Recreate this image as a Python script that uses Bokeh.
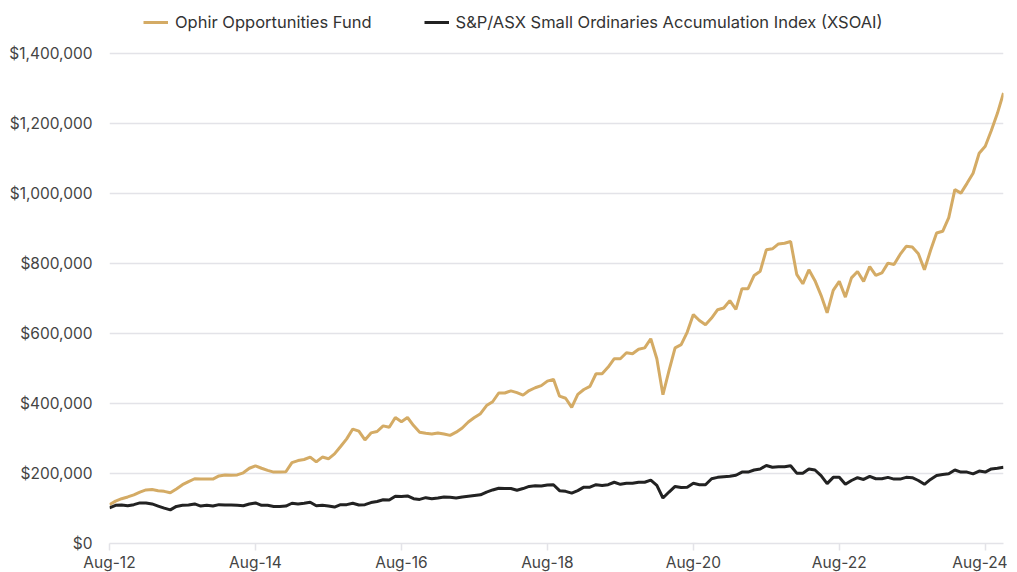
from bokeh.plotting import figure
from bokeh.models import (ColumnDataSource, Range1d, FixedTicker, NumeralTickFormatter,
                          Legend, LegendItem)
from bokeh.embed import file_html
from bokeh.resources import INLINE

# ---- data (values in $) ----
fund_k = [111, 121, 128, 133, 139, 147, 153, 154, 151, 149, 145, 156, 168, 177, 185, 184, 184, 184,
          193, 196, 195, 196, 202, 215, 222, 215, 209, 204, 204, 205, 231, 237, 240, 247, 233, 247,
          242, 256, 277, 299, 327, 321, 296, 316, 320, 336, 332, 360, 348, 360, 337, 318, 315, 313,
          316, 313, 309, 318, 330, 347, 360, 371, 394, 405, 430, 430, 436, 431, 424, 437, 445, 451,
          464, 469, 421, 415, 389, 426, 440, 449, 485, 485, 504, 528, 528, 545, 542, 555, 559, 585,
          528, 425, 494, 559, 568, 604, 654, 637, 625, 644, 668, 673, 694, 669, 728, 728, 766, 778,
          839, 842, 856, 858, 863, 769, 742, 782, 751, 709, 659, 723, 749, 704, 759, 777, 749, 791,
          766, 773, 801, 797, 826, 849, 847, 828, 782, 837, 887, 892, 931, 1011, 1001, 1029, 1058,
          1115, 1135, 1180, 1229, 1287]
index_k = [102, 109, 110, 108, 111, 116, 116, 113, 107, 101, 96, 106, 109, 110, 113, 107, 109, 107,
           111, 110, 110, 109, 108, 113, 116, 109, 109, 106, 106, 107, 115, 113, 115, 118, 108, 109,
           107, 104, 111, 111, 115, 110, 111, 117, 120, 125, 124, 135, 134, 136, 128, 126, 131, 128,
           130, 133, 132, 130, 133, 135, 137, 139, 147, 153, 158, 157, 157, 152, 157, 163, 165, 164,
           167, 168, 151, 149, 144, 151, 161, 161, 168, 166, 168, 175, 169, 172, 172, 175, 175, 181,
           166, 130, 147, 163, 160, 161, 172, 168, 168, 185, 189, 191, 192, 195, 204, 204, 210, 213,
           223, 218, 219, 219, 222, 201, 201, 213, 210, 194, 171, 189, 189, 169, 180, 188, 183, 192,
           185, 185, 189, 184, 184, 189, 188, 180, 169, 183, 194, 197, 199, 210, 204, 204, 199, 207,
           204, 213, 215, 218]
tick_positions = [0, 24, 48, 72, 96, 120, 144]
tick_labels = ["Aug-12", "Aug-14", "Aug-16", "Aug-18", "Aug-20", "Aug-22", "Aug-24"]
y_ticks = [0, 200000, 400000, 600000, 800000, 1000000, 1200000, 1400000]
series_names = ["Ophir Opportunities Fund", "S&P/ASX Small Ordinaries Accumulation Index (XSOAI)"]

months = list(range(len(fund_k)))
src = ColumnDataSource(dict(m=months,
                            fund=[v * 1000 for v in fund_k],
                            idx=[v * 1000 for v in index_k]))

FONT = "Inter"
GOLD = "#D4AB65"
DARK = "#222222"
FRAME_H = 538          # frame reaches up to hold the legend; 70px per $200k
Y_TOP = FRAME_H / 70 * 200000

p = figure(frame_width=894, frame_height=FRAME_H, output_backend="svg", toolbar_location=None,
           x_range=Range1d(0, len(fund_k) - 1), y_range=Range1d(0, Y_TOP),
           min_border_left=109, min_border_right=4, min_border_top=5, min_border_bottom=20)
p.outline_line_color = None
p.background_fill_color = "white"
p.border_fill_color = "white"

r1 = p.line("m", "fund", source=src, line_color=GOLD, line_width=3)
r2 = p.line("m", "idx", source=src, line_color=DARK, line_width=3)

# axes
p.xaxis.ticker = FixedTicker(ticks=tick_positions)
p.xaxis.major_label_overrides = {t: l for t, l in zip(tick_positions, tick_labels)}
p.xaxis.axis_line_color = "#e3e3e8"
p.xaxis.axis_line_width = 1.5
p.xaxis.major_tick_line_color = "#e3e3e8"
p.xaxis.major_tick_line_width = 1.5
p.xaxis.major_tick_out = 7
p.xaxis.major_tick_in = 0
p.xaxis.minor_tick_line_color = None
p.xaxis.major_label_standoff = 2
p.xaxis.major_label_text_font = FONT
p.xaxis.major_label_text_font_size = "15.5px"
p.xaxis.major_label_text_color = "#444444"

p.yaxis.ticker = FixedTicker(ticks=y_ticks)
p.yaxis.formatter = NumeralTickFormatter(format="$0,0")
p.yaxis.axis_line_color = None
p.yaxis.major_tick_line_color = None
p.yaxis.minor_tick_line_color = None
p.yaxis.major_label_standoff = 11
p.yaxis.major_label_text_font = FONT
p.yaxis.major_label_text_font_size = "15.5px"
p.yaxis.major_label_text_color = "#444444"

p.xgrid.grid_line_color = None
p.ygrid.ticker = FixedTicker(ticks=y_ticks)
p.ygrid.grid_line_color = "#e3e3e8"
p.ygrid.grid_line_width = 1.5

legend = Legend(items=[LegendItem(label=series_names[0], renderers=[r1]),
                       LegendItem(label=series_names[1], renderers=[r2])],
                orientation="horizontal", location=(34, FRAME_H - 28),
                glyph_width=25, glyph_height=22, label_standoff=7, spacing=52,
                padding=2, margin=0, border_line_color=None, background_fill_alpha=0,
                label_text_font=FONT, label_text_font_size="16.5px", label_text_color="#333333")
p.add_layout(legend, "center")

open("out.html", "w").write(file_html(p, INLINE))
